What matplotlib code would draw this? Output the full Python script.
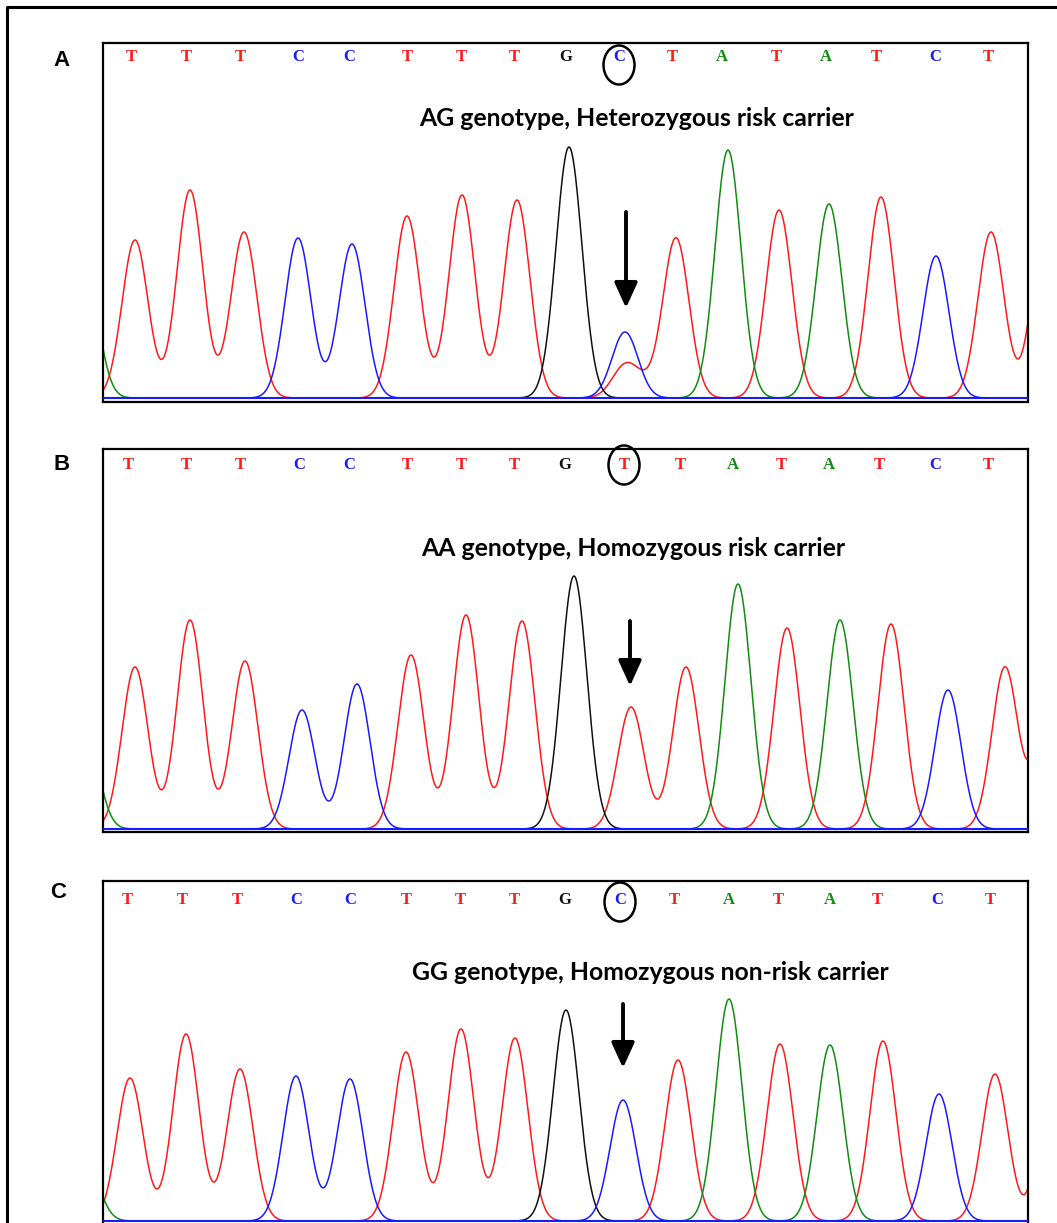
import numpy as np
import matplotlib.pyplot as plt
from matplotlib.patches import Ellipse

# Sanger chromatograms for the three genotypes (A, B, C)

W, H = 1057, 1223

# called bases shown above each trace
seq_a = list("TTTCCTTTGCTATATCT")
seq_b = list("TTTCCTTTGTTATATCT")
seq_c = list("TTTCCTTTGCTATATCT")

# x position of each base letter (scan units)
letx_a = [28, 83, 137, 195, 246, 304, 358, 411, 463, 516, 569, 619, 673, 723, 773, 832, 885]
letx_b = [25, 83, 137, 196, 246, 304, 358, 411, 462, 521, 577, 630, 678, 726, 776, 832, 885]
letx_c = [24, 79, 134, 193, 247, 303, 357, 411, 462, 517, 571, 626, 675, 727, 774, 834, 887]

# peaks: position (scan), height (signal units), dye channel
pk_pos_a = [-18, 32, 87, 141, 195, 249, 304, 359, 414, 466, 522, 522, 540, 573, 625, 676, 726, 778, 833, 888, 942]
pk_h_a = [130, 158, 208, 166, 160, 154, 182, 203, 198, 251, 66, 31, 10, 160, 248, 188, 194, 201, 142, 166, 172]
pk_ch_a = ['A', 'T', 'T', 'T', 'C', 'C', 'T', 'T', 'T', 'G', 'C', 'T', 'T', 'T', 'A', 'T', 'A', 'T', 'C', 'T', 'T']

pk_pos_b = [-18, 32, 87, 142, 199, 254, 308, 363, 419, 471, 528, 583, 635, 684, 737, 788, 845, 902, 948]
pk_h_b = [100, 162, 209, 168, 119, 145, 174, 214, 208, 253, 122, 162, 245, 201, 209, 205, 139, 162, 170]
pk_ch_b = ['A', 'T', 'T', 'T', 'C', 'C', 'T', 'T', 'T', 'G', 'T', 'T', 'A', 'T', 'A', 'T', 'C', 'T', 'T']

pk_pos_c = [-18, 27, 83, 137, 193, 247, 303, 358, 412, 463, 520, 575, 626, 677, 727, 780, 836, 892, 950]
pk_h_c = [63, 143, 187, 152, 145, 142, 169, 192, 183, 211, 121, 161, 222, 177, 176, 180, 127, 147, 170]
pk_ch_c = ['A', 'T', 'T', 'T', 'C', 'C', 'T', 'T', 'T', 'G', 'C', 'T', 'A', 'T', 'A', 'T', 'C', 'T', 'T']

notes = ["AG genotype, Heterozygous risk carrier",
         "AA genotype, Homozygous risk carrier",
         "GG genotype, Homozygous non-risk carrier"]
labels = ["A", "B", "C"]

colors = {'T': '#ff1a1a', 'C': '#1a1aff', 'A': '#108c10', 'G': '#111111'}
SIGMA = 13.0

# panel layout in pixels: box top, box bottom, baseline, letter y, circle y, arrow x/top/tip, note x/y, label pos
panels = [
    dict(seq=seq_a, letx=letx_a, pos=pk_pos_a, h=pk_h_a, ch=pk_ch_a,
         top=43, bot=402, base=398, ly=57, cy=65, ax_x=626, a0=212, a1=308, nx=637, ny=119, lab=(62, 60)),
    dict(seq=seq_b, letx=letx_b, pos=pk_pos_b, h=pk_h_b, ch=pk_ch_b,
         top=449, bot=832, base=829, ly=465, cy=465, ax_x=630, a0=621, a1=686, nx=633, ny=549, lab=(62, 465)),
    dict(seq=seq_c, letx=letx_c, pos=pk_pos_c, h=pk_h_c, ch=pk_ch_c,
         top=881, bot=1236, base=1221, ly=900, cy=902, ax_x=623, a0=1004, a1=1068, nx=650, ny=972, lab=(58, 892)),
]

fig = plt.figure(figsize=(W / 100, H / 100), dpi=100)
x0, x1 = 103, 1028
xs = np.linspace(-5, x1 - x0 + 5, 1500)

for p in panels:
    ax = fig.add_axes([x0 / W, 1 - p['bot'] / H, (x1 - x0) / W, (p['bot'] - p['top']) / H])
    ax.set_xlim(0, x1 - x0)
    ax.set_ylim(-(p['bot'] - p['base']), p['base'] - p['top'])
    for dye in ['T', 'A', 'G', 'C']:
        y = np.zeros_like(xs)
        for c, h, ch in zip(p['pos'], p['h'], p['ch']):
            if ch == dye:
                y += h * np.exp(-(xs - c) ** 2 / (2 * SIGMA ** 2))
        ax.plot(xs, y, color=colors[dye], lw=1.1)
    ax.axhline(0, color=colors['C'], lw=1.5, zorder=3)
    ax.set_xticks([])
    ax.set_yticks([])
    for s in ax.spines.values():
        s.set_linewidth(1.6)
        s.set_color('black')

ov = fig.add_axes([0, 0, 1, 1], facecolor='none')
ov.set_xlim(0, W)
ov.set_ylim(H, 0)
ov.axis('off')

# outer frame
ov.plot([7, 7, W], [H, 7, 7], color='black', lw=2.2, solid_capstyle='butt')

for i, p in enumerate(panels):
    for b, lx in zip(p['seq'], p['letx']):
        ov.text(lx + x0, p['ly'], b, color=colors[b], fontsize=12, family='Liberation Serif',
                weight='bold', ha='center', va='center')
    ov.add_patch(Ellipse((p['letx'][9] + x0, p['cy']), 31, 39, fill=False, lw=1.8, ec='black'))
    ov.annotate('', xy=(p['ax_x'], p['a1']), xytext=(p['ax_x'], p['a0']),
                arrowprops=dict(arrowstyle='-|>,head_width=0.5,head_length=1.1', lw=2.8,
                                color='black', mutation_scale=14, shrinkA=0, shrinkB=0))
    ov.text(p['nx'], p['ny'], notes[i], fontsize=17.8, family='Lato', weight='bold',
            ha='center', va='center')
    ov.text(p['lab'][0], p['lab'][1], labels[i], fontsize=16,
            family='Liberation Sans', weight='bold', ha='center', va='center')

fig.savefig('out.png', dpi=100)
